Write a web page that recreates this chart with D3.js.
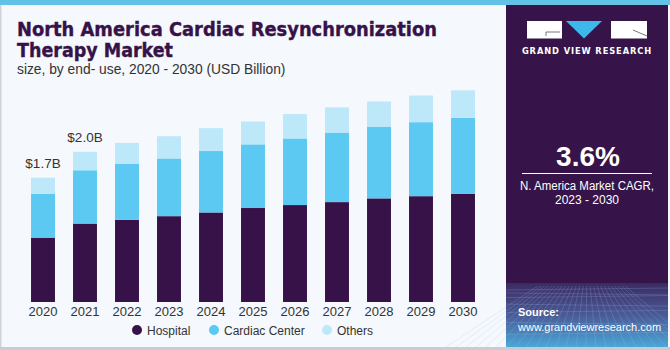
<!DOCTYPE html>
<html>
<head>
<meta charset="utf-8">
<script src="https://cdn.jsdelivr.net/npm/d3@7"></script>
<style>
    html, body { margin: 0; padding: 0; background: #fff; }
    svg { display: block; font-family: 'Liberation Sans', Arial, sans-serif; }
</style>
</head>
<body>
<svg id="chart" width="670" height="350"></svg>
<script>
// ===== Data =====
const years = ['2020', '2021', '2022', '2023', '2024', '2025', '2026', '2027', '2028', '2029', '2030'];
const hospital = [0.87, 1.06, 1.11, 1.16, 1.21, 1.27, 1.31, 1.35, 1.40, 1.43, 1.46];
const cardiacCenter = [0.59, 0.72, 0.76, 0.78, 0.83, 0.86, 0.90, 0.94, 0.97, 1.00, 1.03];
const others = [0.22, 0.25, 0.28, 0.30, 0.31, 0.31, 0.33, 0.34, 0.34, 0.36, 0.37];
const seriesNames = ['Hospital', 'Cardiac Center', 'Others'];
const totalLabels = { '2020': '$1.7B', '2021': '$2.0B' };

// ===== Config =====
const COLORS = {
    'Hospital': '#371249',
    'Cardiac Center': '#5bc9f2',
    'Others': '#bde8f9'
};

const svg = d3.select('#chart');

// background
svg.append('rect').attr('width', 670).attr('height', 350).attr('fill', '#f5f8fc');
svg.append('rect').attr('x', 0).attr('y', 0).attr('width', 670).attr('height', 5).attr('fill', '#62c3e6');
svg.append('rect').attr('x', 0).attr('y', 5).attr('width', 1.5).attr('height', 345).attr('fill', '#d0d3d8');
svg.append('rect').attr('x', 0).attr('y', 347).attr('width', 670).attr('height', 3).attr('fill', '#c9ccd1');

// ===== Title =====
const title = svg.append('g').attr('fill', '#371249')
    .attr('stroke', '#371249').attr('stroke-width', 0.4)
    .style('font-family', "'DejaVu Sans', sans-serif").style('font-weight', 'bold');
title.append('text').attr('x', 17).attr('y', 36).attr('font-size', 19.5)
    .attr('textLength', 420).attr('lengthAdjust', 'spacingAndGlyphs')
    .text('North America Cardiac Resynchronization');
title.append('text').attr('x', 17).attr('y', 57).attr('font-size', 19.5)
    .attr('textLength', 156).attr('lengthAdjust', 'spacingAndGlyphs')
    .text('Therapy Market');
svg.append('text').attr('x', 17).attr('y', 74).attr('font-size', 13.8).attr('fill', '#333')
    .text('size, by end- use, 2020 - 2030 (USD Billion)');

// ===== Stacked bars =====
const tableData = years.map((y, i) => ({
    year: y,
    'Hospital': hospital[i],
    'Cardiac Center': cardiacCenter[i],
    'Others': others[i]
}));

const stack = d3.stack().keys(seriesNames)(tableData);

const x = d3.scaleBand()
    .domain(years)
    .range([22, 484])
    .paddingInner(0.43)
    .paddingOuter(0.215);

const y = d3.scaleLinear()
    .domain([0, 2.5])
    .range([302, 302 - 2.5 * 74]);

svg.append('g')
    .selectAll('g')
    .data(stack)
    .enter()
    .append('g')
    .attr('fill', d => COLORS[d.key])
    .selectAll('rect')
    .data(d => d)
    .enter()
    .append('rect')
    .attr('x', d => x(d.data.year))
    .attr('y', d => y(d[1]))
    .attr('width', x.bandwidth())
    .attr('height', d => y(d[0]) - y(d[1]));

// total labels
const last = stack[stack.length - 1];
svg.append('g')
    .selectAll('text')
    .data(last.filter(d => totalLabels[d.data.year]))
    .enter()
    .append('text')
    .attr('x', d => x(d.data.year) + x.bandwidth() / 2)
    .attr('y', d => y(d[1]) - 10)
    .attr('text-anchor', 'middle')
    .attr('font-size', 13.5)
    .attr('fill', '#333')
    .text(d => totalLabels[d.data.year]);

// x axis
const xAxis = svg.append('g')
    .attr('transform', 'translate(0,302)')
    .call(d3.axisBottom(x).tickSize(0).tickPadding(5));
xAxis.select('.domain').remove();
xAxis.selectAll('text')
    .attr('font-size', 13)
    .attr('fill', '#333')
    .style('font-family', "'Liberation Sans', Arial, sans-serif");

// ===== Legend =====
const legendPos = [137, 214, 327];
const legend = svg.append('g');
seriesNames.forEach((name, i) => {
    legend.append('circle')
        .attr('cx', legendPos[i]).attr('cy', 330).attr('r', 5)
        .attr('fill', COLORS[name]);
    legend.append('text')
        .attr('x', legendPos[i] + 10).attr('y', 334.5)
        .attr('font-size', 12).attr('fill', '#333')
        .text(name);
});

// ===== Right panel =====
const defs = svg.append('defs');
const grad = defs.append('linearGradient').attr('id', 'panelGrad')
    .attr('x1', 0).attr('y1', 0).attr('x2', 0).attr('y2', 1);
grad.append('stop').attr('offset', '0').attr('stop-color', '#3c2a62');
grad.append('stop').attr('offset', '0.5').attr('stop-color', '#4a5a96');
grad.append('stop').attr('offset', '1').attr('stop-color', '#4aa6d8');

const panel = svg.append('g');
panel.append('rect').attr('x', 506).attr('y', 5).attr('width', 162).attr('height', 342).attr('fill', '#361449');
panel.append('rect').attr('x', 506).attr('y', 283).attr('width', 162).attr('height', 64).attr('fill', 'url(#panelGrad)');

// mesh lines at the bottom of the panel
const mesh = panel.append('g').attr('stroke', '#9fc4ea').attr('stroke-opacity', 0.35).attr('stroke-width', 0.6).attr('fill', 'none');
d3.range(0, 9).forEach(k => {
    const yy = 290 + k * k * 0.9 + k * 2;
    mesh.append('line').attr('x1', 506).attr('x2', 668).attr('y1', yy).attr('y2', yy + (k % 2 ? 2 : -2));
});
d3.range(-6, 20).forEach(k => {
    const xt = 506 + k * 10;
    mesh.append('line').attr('x1', 587 + (xt - 587) * 0.35).attr('y1', 286).attr('x2', xt).attr('y2', 347);
});

// logo
const logo = panel.append('g');
logo.append('rect').attr('x', 527).attr('y', 21).attr('width', 35).attr('height', 17.5).attr('fill', '#fff');
logo.append('path').attr('d', 'M546,32 L560,32 M546,32 L546,36').attr('stroke', '#555').attr('stroke-width', 0.8).attr('fill', 'none');
logo.append('path').attr('d', 'M566,21 L602,21 L584,38.5 Z').attr('fill', '#3cb8ea');
logo.append('rect').attr('x', 611).attr('y', 21).attr('width', 36).attr('height', 17.5).attr('fill', '#fff');
logo.append('path').attr('d', 'M633,30 L647,36').attr('stroke', '#555').attr('stroke-width', 0.8);
logo.append('text').attr('x', 587).attr('y', 54).attr('text-anchor', 'middle')
    .attr('font-size', 8.3).attr('font-weight', 'bold').attr('fill', '#fff')
    .attr('letter-spacing', 0.9)
    .style('font-family', "'DejaVu Sans', sans-serif")
    .text('GRAND VIEW RESEARCH');

// CAGR
panel.append('text').attr('x', 588).attr('y', 165.5).attr('text-anchor', 'middle')
    .attr('font-size', 28).attr('font-weight', 'bold').attr('fill', '#fff')
    .text('3.6%');
panel.append('line').attr('x1', 522).attr('x2', 652).attr('y1', 173.5).attr('y2', 173.5)
    .attr('stroke', '#fff').attr('stroke-width', 1);
panel.append('text').attr('x', 587).attr('y', 190).attr('text-anchor', 'middle')
    .attr('font-size', 12).attr('fill', '#fff')
    .attr('textLength', 134).attr('lengthAdjust', 'spacingAndGlyphs')
    .text('N. America Market CAGR,');
panel.append('text').attr('x', 587).attr('y', 204).attr('text-anchor', 'middle')
    .attr('font-size', 12).attr('fill', '#fff')
    .text('2023 - 2030');

// source
panel.append('text').attr('x', 518).attr('y', 316)
    .attr('font-size', 11).attr('font-weight', 'bold').attr('fill', '#fff')
    .text('Source:');
panel.append('text').attr('x', 518).attr('y', 331)
    .attr('font-size', 11).attr('fill', '#fff')
    .text('www.grandviewresearch.com');
</script>
</body>
</html>
